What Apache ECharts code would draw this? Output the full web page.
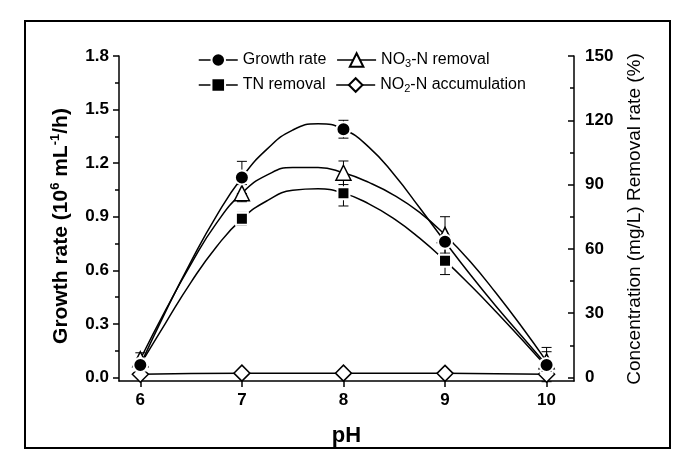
<!DOCTYPE html>
<html><head><meta charset="utf-8">
<script src="https://cdn.jsdelivr.net/npm/echarts@6/dist/echarts.min.js"></script>
<style>html,body{margin:0;padding:0;background:#fff}#c{width:685px;height:464px}</style>
</head><body><div id="c"></div>
<script>
const pH = [6, 7, 8, 9, 10];
const growthRate = [0.07, 1.12, 1.39, 0.76, 0.07];      // 10^6 mL^-1/h (left axis)
const growthErr  = [0.02, 0.09, 0.05, 0.03, 0.02];
const no3Removal = [8.5, 86, 95.5, 66.5, 7.5];           // % (right axis)
const no3Err     = [3, 4, 5.5, 8.5, 6.5];
const tnRemoval  = [6, 74, 86, 54.5, 5];                 // % (right axis)
const tnErr      = [2, 3, 6, 6.5, 7];
const no2Accum   = [1.5, 2, 2, 1.9, 1.5];                // mg/L (right axis)
const no2Err     = [0.8, 1, 1, 0.8, 0.8];
// ---- fitted curves ----
const curvePH     = [6, 6.25, 6.5, 6.75, 7, 7.25, 7.5, 7.75, 8, 8.25, 8.5, 8.75, 9, 9.25, 9.5, 9.75, 10];
const growthCurve = [0.07, 0.37, 0.65, 0.905, 1.12, 1.28, 1.385, 1.42, 1.39, 1.29, 1.135, 0.95, 0.76, 0.575, 0.40, 0.235, 0.07];
const no3Curve    = [8.5, 31.5, 53, 72, 86, 94.5, 98, 98, 95.5, 91, 85, 77, 66.5, 54, 39.5, 24, 7.5];
const tnCurve     = [6, 25.5, 44.5, 61, 74, 82.5, 87.3, 88, 86, 81, 74, 65, 54.5, 43, 30.8, 18, 5];
// ---- axis ticks ----
const xTicks     = [6, 7, 8, 9, 10];
const leftTicks  = [0, 0.3, 0.6, 0.9, 1.2, 1.5, 1.8];
const leftMinor  = [0.15, 0.45, 0.75, 1.05, 1.35, 1.65];
const rightTicks = [0, 30, 60, 90, 120, 150];
const rightMinor = [15, 45, 75, 105, 135];

const FONT = 'Liberation Sans, Arial, sans-serif';
const chart = echarts.init(document.getElementById('c'), null, {renderer: 'canvas'});

function errSeries(vals, errs, yIdx) {
  return {
    type: 'custom', yAxisIndex: yIdx, z: 1, silent: true,
    data: pH.map((x, i) => [x, vals[i], errs[i]]),
    encode: {x: 0, y: 1},
    renderItem(params, api) {
      const x = api.value(0), y = api.value(1), e = api.value(2);
      const top = api.coord([x, y + e]), bot = api.coord([x, y - e]);
      const hw = 5, st = {stroke: '#000', lineWidth: 1};
      return {type: 'group', children: [
        {type: 'line', shape: {x1: top[0], y1: top[1], x2: bot[0], y2: bot[1]}, style: st},
        {type: 'line', shape: {x1: top[0] - hw, y1: top[1], x2: top[0] + hw, y2: top[1]}, style: st},
        {type: 'line', shape: {x1: bot[0] - hw, y1: bot[1], x2: bot[0] + hw, y2: bot[1]}, style: st}
      ]};
    }
  };
}
function curveSeries(xs, vals, yIdx) {
  return {
    type: 'line', yAxisIndex: yIdx, z: 2, smooth: true, silent: true,
    data: xs.map((x, i) => [x, vals[i]]),
    showSymbol: false, symbol: 'none',
    lineStyle: {color: '#000', width: 1.5}, emphasis: {disabled: true}
  };
}
function markerSeries(name, vals, yIdx, symbol, size, filled, withLine) {
  return {
    name, type: 'line', yAxisIndex: yIdx, z: 3, smooth: true,
    data: pH.map((x, i) => [x, vals[i]]),
    symbol, symbolSize: size, showSymbol: true,
    lineStyle: withLine ? {color: '#000', width: 1.5} : {color: '#000', width: 1.5, opacity: 0},
    itemStyle: filled
      ? {color: '#000', borderColor: '#fff', borderWidth: 2}
      : {color: '#fff', borderColor: '#000', borderWidth: 1.5},
    emphasis: {disabled: true}
  };
}

const legendNames = {
  'Growth rate': '{n|Growth rate}',
  'NO3-N removal': '{n|NO}{s|3}{n|-N removal}',
  'TN removal': '{n|TN removal}',
  'NO2-N accumulation': '{n|NO}{s|2}{n|-N accumulation}'
};
const legendText = {
  color: '#000', fontFamily: FONT, fontSize: 16,
  rich: {
    n: {fontFamily: FONT, fontSize: 16, lineHeight: 18, color: '#000'},
    s: {fontFamily: FONT, fontSize: 11, lineHeight: 10, verticalAlign: 'bottom', color: '#000'}
  }
};
function legend(data, top) {
  return {
    data, left: 193, top, orient: 'horizontal', itemGap: 10, itemWidth: 39, itemHeight: 17,
    selectedMode: false, formatter: n => legendNames[n], textStyle: legendText,
    lineStyle: {color: '#000', width: 1.5, opacity: 1}
  };
}

const tickLabel = {fontFamily: FONT, fontSize: 17, fontWeight: 'bold', color: '#000'};
const axisLine = {show: true, onZero: false, lineStyle: {color: '#000', width: 1.5}};

chart.setOption({
  backgroundColor: '#fff',
  animation: false,
  grid: {left: 119, right: 111, top: 56, bottom: 83, containLabel: false},
  legend: [
    legend(['Growth rate', 'NO3-N removal'], 47),
    legend(['TN removal', 'NO2-N accumulation'], 72)
  ],
  xAxis: {
    type: 'value', min: 5.79, max: 10.27,
    name: 'pH', nameLocation: 'middle', nameGap: 44,
    nameTextStyle: {fontFamily: FONT, fontSize: 22, fontWeight: 'bold', color: '#000'},
    axisLine,
    axisTick: {show: true, customValues: xTicks, length: 6, lineStyle: {color: '#000', width: 1.5}},
    axisLabel: Object.assign({customValues: xTicks, margin: 11}, tickLabel),
    splitLine: {show: false}
  },
  yAxis: [
    {
      type: 'value', position: 'left', min: -0.02, max: 1.8,
      axisLine,
      axisTick: {show: true, customValues: leftTicks, length: 6, lineStyle: {color: '#000', width: 1.5}},
      axisLabel: Object.assign({customValues: leftTicks, margin: 10, formatter: v => v.toFixed(1)}, tickLabel),
      splitLine: {show: false}
    },
    {
      type: 'value', position: 'left', min: -0.02, max: 1.8,
      axisLine: {show: false},
      axisTick: {show: true, customValues: leftMinor, length: 4, lineStyle: {color: '#000', width: 1.5}},
      axisLabel: {show: false}, splitLine: {show: false}
    },
    {
      type: 'value', position: 'right', min: -1.6667, max: 150,
      axisLine,
      axisTick: {show: true, inside: true, customValues: rightTicks, length: 6, lineStyle: {color: '#000', width: 1.5}},
      axisLabel: Object.assign({customValues: rightTicks, margin: 11}, tickLabel),
      splitLine: {show: false}
    },
    {
      type: 'value', position: 'right', min: -1.6667, max: 150,
      axisLine: {show: false},
      axisTick: {show: true, inside: true, customValues: rightMinor, length: 4, lineStyle: {color: '#000', width: 1.5}},
      axisLabel: {show: false}, splitLine: {show: false}
    }
  ],
  series: [
    errSeries(growthRate, growthErr, 0),
    errSeries(no3Removal, no3Err, 2),
    errSeries(tnRemoval, tnErr, 2),
    errSeries(no2Accum, no2Err, 2),
    curveSeries(curvePH, tnCurve, 2),
    curveSeries(curvePH, no3Curve, 2),
    curveSeries(curvePH, growthCurve, 0),
    markerSeries('NO2-N accumulation', no2Accum, 2, 'diamond', 16, false, true),
    markerSeries('TN removal', tnRemoval, 2, 'rect', 12, true, false),
    markerSeries('NO3-N removal', no3Removal, 2, 'triangle', 15, false, false),
    markerSeries('Growth rate', growthRate, 0, 'circle', 14, true, false)
  ],
  graphic: [
    {
      type: 'rect', z: -10, silent: true,
      shape: {x: 25, y: 21, width: 645, height: 427},
      style: {fill: 'none', stroke: '#000', lineWidth: 2}
    },
    {
      type: 'text', silent: true, x: 61, y: 226, rotation: Math.PI / 2,
      style: {
        text: '{b|Growth rate (10}{p|6}{b| mL}{p|-1}{b|/h)}',
        align: 'center', verticalAlign: 'middle',
        rich: {
          b: {fontFamily: FONT, fontSize: 21, fontWeight: 'bold', lineHeight: 24, fill: '#000'},
          p: {fontFamily: FONT, fontSize: 13, fontWeight: 'bold', lineHeight: 13, verticalAlign: 'top', fill: '#000'}
        }
      }
    },
    {
      type: 'text', silent: true, x: 635, y: 219, rotation: Math.PI / 2,
      style: {
        text: 'Concentration (mg/L) Removal rate (%)',
        align: 'center', verticalAlign: 'middle',
        fontFamily: FONT, fontSize: 19, fill: '#000'
      }
    }
  ]
});
</script></body></html>
